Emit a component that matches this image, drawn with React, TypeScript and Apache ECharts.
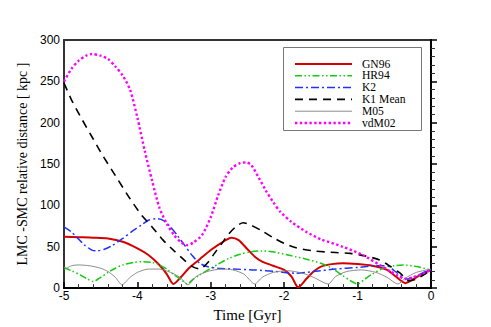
import React, { useEffect, useRef } from "react";
import * as echarts from "echarts";

const xTicks = [-5, -4, -3, -2, -1, 0];
const yTicks = [0, 50, 100, 150, 200, 250, 300];

const seriesNames = ["GN96", "HR94", "K2", "K1 Mean", "M05", "vdM02"];

const gn96 = [
  [-5, 62], [-4.8, 61.5], [-4.6, 61], [-4.4, 60], [-4.2, 56], [-4.0, 48], [-3.85, 40], [-3.7, 28],
  [-3.6, 17], [-3.51, 5], [-3.4, 14], [-3.3, 24], [-3.15, 35], [-3.0, 46], [-2.85, 55], [-2.72, 61],
  [-2.62, 58], [-2.5, 47], [-2.4, 38], [-2.3, 32], [-2.15, 27], [-2.0, 22], [-1.9, 14], [-1.81, 1],
  [-1.7, 11], [-1.6, 20], [-1.5, 26], [-1.35, 29], [-1.2, 30], [-1.0, 29], [-0.8, 27], [-0.6, 22],
  [-0.48, 14], [-0.35, 6], [-0.2, 13], [-0.1, 18], [0, 22],
];

const hr94 = [
  [-5, 25], [-4.9, 21], [-4.78, 16], [-4.68, 11], [-4.6, 8], [-4.5, 13], [-4.4, 19], [-4.3, 24],
  [-4.2, 28], [-4.05, 31], [-3.92, 32], [-3.8, 31], [-3.7, 28], [-3.6, 23], [-3.5, 16], [-3.4, 10],
  [-3.32, 5], [-3.25, 10], [-3.15, 16], [-3.0, 24], [-2.9, 29], [-2.75, 36], [-2.6, 41], [-2.45, 44],
  [-2.3, 45], [-2.1, 43], [-1.9, 39], [-1.7, 35], [-1.5, 30], [-1.35, 24], [-1.2, 15], [-1.1, 9],
  [-1.0, 5], [-0.9, 11], [-0.8, 17], [-0.65, 24], [-0.5, 27], [-0.38, 28], [-0.2, 26], [0, 22],
];

const k2 = [
  [-5, 74], [-4.9, 68], [-4.82, 61], [-4.72, 52], [-4.62, 46], [-4.55, 45], [-4.45, 47], [-4.35, 51],
  [-4.2, 60], [-4.05, 70], [-3.95, 76], [-3.85, 82], [-3.75, 84], [-3.65, 82], [-3.55, 74], [-3.45, 63],
  [-3.35, 51], [-3.25, 39], [-3.15, 30], [-3.05, 26], [-2.9, 24], [-2.7, 23], [-2.4, 22], [-2.1, 20],
  [-1.85, 18], [-1.6, 20], [-1.3, 23], [-1.0, 25], [-0.75, 27], [-0.6, 27], [-0.5, 21], [-0.4, 14],
  [-0.32, 11], [-0.2, 14], [-0.1, 19], [0, 22],
];

const k1Mean = [
  [-5, 248], [-4.9, 228], [-4.78, 208], [-4.6, 180], [-4.47, 160], [-4.3, 136], [-4.1, 108], [-3.95, 89],
  [-3.8, 74], [-3.65, 58], [-3.5, 45], [-3.35, 33], [-3.25, 26], [-3.15, 23], [-3.05, 30], [-2.95, 42],
  [-2.85, 54], [-2.75, 66], [-2.65, 75], [-2.56, 79], [-2.45, 76], [-2.3, 69], [-2.15, 61], [-2.0, 54],
  [-1.85, 49], [-1.6, 45], [-1.3, 43], [-1.1, 42], [-0.9, 39], [-0.7, 34], [-0.55, 26], [-0.42, 18],
  [-0.3, 9], [-0.2, 11], [-0.1, 16], [0, 22],
];

const m05 = [
  [-5, 22], [-4.9, 27], [-4.8, 28], [-4.65, 27], [-4.5, 24], [-4.4, 20], [-4.3, 13], [-4.21, 4],
  [-4.1, 13], [-4.0, 19], [-3.85, 23], [-3.7, 23], [-3.55, 19], [-3.42, 13], [-3.31, 4], [-3.2, 14],
  [-3.05, 20], [-2.85, 23], [-2.7, 22], [-2.55, 17], [-2.4, 5], [-2.3, 13], [-2.15, 19], [-1.95, 21],
  [-1.75, 18], [-1.6, 13], [-1.4, 5], [-1.3, 14], [-1.15, 20], [-0.95, 22], [-0.75, 19], [-0.6, 13],
  [-0.45, 5], [-0.35, 12], [-0.2, 19], [0, 23],
];

const vdm02 = [
  [-5, 250], [-4.9, 265], [-4.8, 275], [-4.7, 281], [-4.62, 283], [-4.5, 281], [-4.4, 277], [-4.3, 268],
  [-4.2, 257], [-4.1, 240], [-4.0, 206], [-3.9, 166], [-3.8, 130], [-3.7, 97], [-3.6, 78], [-3.5, 64],
  [-3.4, 55], [-3.32, 52], [-3.24, 55], [-3.12, 64], [-3.0, 86], [-2.9, 112], [-2.8, 134], [-2.7, 146],
  [-2.6, 151], [-2.52, 152], [-2.45, 149], [-2.35, 134], [-2.25, 118], [-2.15, 104], [-2.05, 92],
  [-1.9, 80], [-1.7, 68], [-1.5, 59], [-1.2, 50], [-0.93, 40], [-0.7, 28], [-0.55, 20], [-0.45, 15],
  [-0.35, 11], [-0.25, 13], [-0.1, 18], [0, 22],
];

const serif = "Liberation Serif, Times New Roman, serif";
const sans = "Liberation Sans, Arial, sans-serif";

type Sty = { color: string; width: number; dash: number[] | null };
const styles: Sty[] = [
  { color: "#d40000", width: 2, dash: null },
  { color: "#11cc11", width: 1.5, dash: [7, 2.5, 1.5, 2.5, 1.5, 2.5] },
  { color: "#2233ff", width: 1.5, dash: [8, 3, 2, 3] },
  { color: "#000000", width: 1.6, dash: [8, 6] },
  { color: "#808080", width: 0.9, dash: null },
  { color: "#ff00ff", width: 2.4, dash: [2.4, 2.4] },
];
const allData = [gn96, hr94, k2, k1Mean, m05, vdm02];

export default function App() {
  const ref = useRef<HTMLDivElement>(null);
  useEffect(() => {
    if (!ref.current) return;
    const chart = echarts.init(ref.current, null, { renderer: "svg" });

    const legendX = 283;
    const legendY = 47;
    const rowY0 = 64;
    const rowGap = 11.8;
    const legendGraphics: any[] = [
      {
        type: "rect",
        shape: { x: legendX + 0.5, y: legendY + 0.5, width: 138, height: 83 },
        style: { fill: "#fff", stroke: "#777", lineWidth: 1 },
        z: 10,
      },
    ];
    seriesNames.forEach((name, i) => {
      const y = rowY0 + i * rowGap;
      const s = styles[i];
      legendGraphics.push({
        type: "line",
        shape: { x1: 295, y1: y, x2: 352, y2: y },
        style: { stroke: s.color, lineWidth: s.width, lineDash: s.dash || undefined },
        z: 11,
      });
      legendGraphics.push({
        type: "text",
        x: 362,
        y,
        style: {
          text: name,
          fontFamily: serif,
          fontSize: 11.6,
          fill: "#000",
          verticalAlign: "middle",
        },
        z: 11,
      });
    });

    chart.setOption({
      animation: false,
      backgroundColor: "#fff",
      grid: {
        left: 64,
        right: 60,
        top: 40,
        bottom: 37,
        show: true,
        borderColor: "#333",
        borderWidth: 2,
        backgroundColor: "transparent",
      },
      graphic: legendGraphics,
      xAxis: {
        type: "value",
        min: -5,
        max: 0,
        interval: 1,
        name: "Time [Gyr]",
        nameLocation: "middle",
        nameGap: 11,
        nameTextStyle: { fontFamily: serif, fontSize: 15, color: "#000" },
        axisLine: { show: true, onZero: false, lineStyle: { color: "#000", width: 2 } },
        axisTick: { show: true, inside: true, length: 6, lineStyle: { color: "#000", width: 1.5 } },
        minorTick: { show: true, splitNumber: 5, length: 4, lineStyle: { color: "#333", width: 1 } },
        splitLine: { show: false },
        axisLabel: {
          fontFamily: sans,
          fontSize: 12,
          color: "#000",
          margin: 2,
          formatter: (v: number) => (xTicks.includes(v) ? String(v) : ""),
        },
      },
      yAxis: {
        type: "value",
        min: 0,
        max: 300,
        interval: 50,
        name: "LMC -SMC relative distance [ kpc ]",
        nameLocation: "middle",
        nameGap: 35,
        nameTextStyle: { fontFamily: serif, fontSize: 14, color: "#000" },
        axisLine: { show: true, lineStyle: { color: "#000", width: 2 } },
        axisTick: { show: true, inside: true, length: 6, lineStyle: { color: "#000", width: 1.5 } },
        minorTick: { show: true, splitNumber: 5, length: 4, lineStyle: { color: "#333", width: 1 } },
        splitLine: { show: false },
        axisLabel: {
          fontFamily: sans,
          fontSize: 12,
          color: "#000",
          margin: 4,
          formatter: (v: number) => (yTicks.includes(v) ? String(v) : ""),
        },
      },
      series: seriesNames.map((name, i) => ({
        name,
        type: "line",
        data: allData[i],
        showSymbol: false,
        symbol: "none",
        smooth: 0.25,
        lineStyle: { color: styles[i].color, width: styles[i].width, type: styles[i].dash || "solid" },
        itemStyle: { color: styles[i].color },
        z: 3,
      })),
    });
    return () => chart.dispose();
  }, []);
  return (
    <div
      ref={ref}
      style={{ position: "fixed", left: 0, top: 0, width: 491, height: 327, background: "#fff" }}
    />
  );
}
